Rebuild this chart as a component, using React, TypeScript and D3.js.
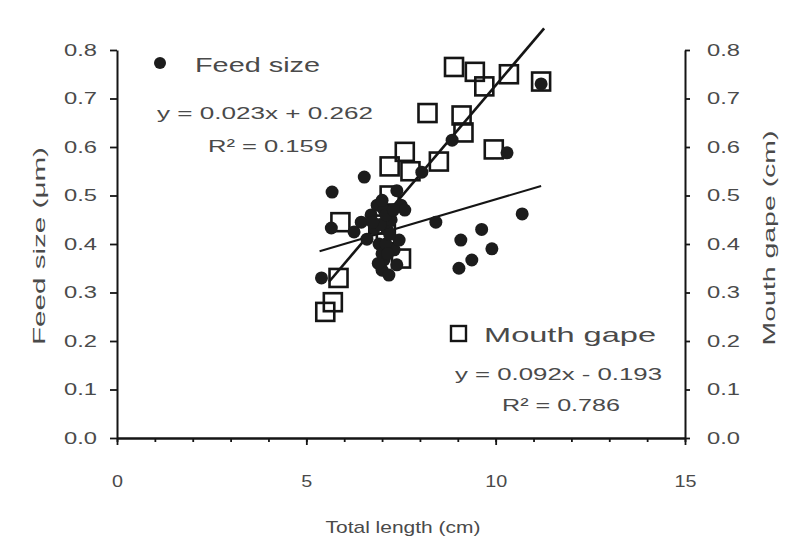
import * as d3 from 'd3';
import React, { useEffect, useRef } from 'react';

const width = 786;
const height = 555;

// feed size (left axis) vs total length
const feedLen = [5.4, 5.68, 6.53, 5.66, 6.26, 6.45, 6.71, 6.87, 7.05, 7.13, 6.92, 7.05, 7.0, 7.18, 7.39, 7.32, 7.45, 7.24, 7.5, 7.39, 6.6, 6.8, 7.0, 7.1, 7.6, 6.95, 7.1, 7.2, 6.9, 7.15, 7.3, 7.0, 6.75, 8.05, 8.42, 8.85, 9.03, 9.08, 9.37, 9.63, 9.9, 10.3, 10.7, 11.2];
const feedSize = [0.33, 0.507, 0.538, 0.433, 0.425, 0.445, 0.46, 0.48, 0.47, 0.43, 0.4, 0.367, 0.346, 0.336, 0.357, 0.388, 0.408, 0.45, 0.48, 0.51, 0.41, 0.433, 0.38, 0.4, 0.47, 0.44, 0.46, 0.42, 0.36, 0.38, 0.47, 0.49, 0.445, 0.548, 0.445, 0.614, 0.35, 0.408, 0.367, 0.43, 0.39, 0.588, 0.462, 0.73];

// mouth gape (right axis) vs total length
const gapeLen = [5.5, 5.7, 5.85, 5.9, 6.9, 7.1, 7.0, 7.2, 7.2, 7.6, 7.75, 7.5, 8.2, 8.5, 8.9, 9.1, 9.15, 9.45, 9.7, 9.95, 10.35, 11.2];
const gapeSize = [0.26, 0.28, 0.33, 0.445, 0.44, 0.42, 0.46, 0.5, 0.56, 0.59, 0.55, 0.37, 0.67, 0.57, 0.765, 0.665, 0.63, 0.755, 0.725, 0.595, 0.75, 0.735];

const xTicks = [0, 5, 10, 15];
const xMinor = d3.range(0, 16, 1);
const yTicks = [0, 0.1, 0.2, 0.3, 0.4, 0.5, 0.6, 0.7, 0.8];

const feedFit = { slope: 0.023, intercept: 0.262, from: 5.35, to: 11.2 };
const gapeFit = { slope: 0.092, intercept: -0.193, from: 5.6, to: 11.28 };

const FONT = "'Liberation Sans', Arial, sans-serif";
const INK = '#151515';
const TXT = '#4a4a4a';

export default function App() {
  const ref = useRef<SVGSVGElement>(null);

  useEffect(() => {
    const svg = d3.select(ref.current);
    svg.selectAll('*').remove();

    const x = d3.scaleLinear().domain([0, 15]).range([117, 685]);
    const yL = d3.scaleLinear().domain([0, 0.8]).range([438, 50]);
    const yR = yL.copy();

    const styleAxis = (g: any) => {
      g.select('.domain').attr('stroke', INK).attr('stroke-width', 2);
      g.selectAll('.tick line').attr('stroke', INK).attr('stroke-width', 1.8);
      g.selectAll('text')
        .attr('font-family', FONT)
        .attr('font-size', 17)
        .attr('fill', TXT);
    };

    // minor x ticks
    svg.append('g')
      .attr('transform', 'translate(0,438)')
      .call(d3.axisBottom(x).tickValues(xMinor).tickSize(4).tickSizeOuter(0).tickFormat(() => ''))
      .call(styleAxis);

    // x axis
    svg.append('g')
      .attr('transform', 'translate(0,438)')
      .call(d3.axisBottom(x).tickValues(xTicks).tickSize(7).tickPadding(30).tickSizeOuter(0).tickFormat(d3.format('d')))
      .call(styleAxis)
      .selectAll('text')
      .attr('textLength', (d: any) => (d < 10 ? 11 : 22))
      .attr('lengthAdjust', 'spacingAndGlyphs');

    // left axis
    svg.append('g')
      .attr('transform', 'translate(117,0)')
      .call(d3.axisLeft(yL).tickValues(yTicks).tickSize(7).tickPadding(13).tickSizeOuter(0).tickFormat(d3.format('.1f')))
      .call(styleAxis)
      .selectAll('text')
      .attr('textLength', 33)
      .attr('lengthAdjust', 'spacingAndGlyphs');

    // right axis
    svg.append('g')
      .attr('transform', 'translate(685,0)')
      .call(d3.axisRight(yR).tickValues(yTicks).tickSize(5).tickPadding(17).tickSizeOuter(0).tickFormat(d3.format('.1f')))
      .call(styleAxis)
      .selectAll('text')
      .attr('textLength', 33)
      .attr('lengthAdjust', 'spacingAndGlyphs');

    // regression lines
    const line = d3.line<number>().x(d => x(d));
    const fitLine = (fit: typeof feedFit, y: any, w: number) => {
      svg.append('path')
        .datum([fit.from, fit.to])
        .attr('d', line.y(d => y(fit.slope * d + fit.intercept)) as any)
        .attr('fill', 'none')
        .attr('stroke', INK)
        .attr('stroke-width', w);
    };
    fitLine(feedFit, yL, 2);
    fitLine(gapeFit, yR, 2.6);

    // mouth gape squares
    const sq = 18;
    svg.append('g').selectAll('rect')
      .data(gapeLen.map((l, i) => [l, gapeSize[i]]))
      .join('rect')
      .attr('x', d => x(d[0]) - sq / 2)
      .attr('y', d => yR(d[1]) - sq / 2)
      .attr('width', sq)
      .attr('height', sq)
      .attr('fill', 'none')
      .attr('stroke', INK)
      .attr('stroke-width', 2.6);

    // feed size dots
    svg.append('g').selectAll('circle')
      .data(feedLen.map((l, i) => [l, feedSize[i]]))
      .join('circle')
      .attr('cx', d => x(d[0]))
      .attr('cy', d => yL(d[1]))
      .attr('r', 6.5)
      .attr('fill', '#1c1c1c');

    const label = (tx: number, ty: number, str: string, size: number, len: number, anchor = 'start', rot = 0) => {
      svg.append('text')
        .attr('transform', `translate(${tx},${ty}) rotate(${rot})`)
        .attr('text-anchor', anchor)
        .attr('font-family', FONT)
        .attr('font-size', size)
        .attr('fill', TXT)
        .attr('textLength', len)
        .attr('lengthAdjust', 'spacingAndGlyphs')
        .text(str);
    };

    // legend: feed size
    svg.append('circle').attr('cx', 160).attr('cy', 63).attr('r', 6).attr('fill', '#1c1c1c');
    label(195, 72, 'Feed size', 21, 125);
    label(157, 119, 'y = 0.023x + 0.262', 17, 216);
    label(208, 152, 'R² = 0.159', 17, 120);

    // legend: mouth gape
    svg.append('rect').attr('x', 451).attr('y', 326).attr('width', 15).attr('height', 15)
      .attr('fill', 'none').attr('stroke', INK).attr('stroke-width', 2.4);
    label(484, 342, 'Mouth gape', 21, 172);
    label(455, 380, 'y = 0.092x - 0.193', 17, 207);
    label(502, 411, 'R² = 0.786', 17, 118);

    // axis titles
    label(403, 533, 'Total length (cm)', 17, 155, 'middle');
    label(45, 246, 'Feed size (μm)', 17, 198, 'middle', -90);
    label(775, 238, 'Mouth gape (cm)', 17, 215, 'middle', -90);
  }, []);

  return (
    <svg
      ref={ref}
      width={width}
      height={height}
      style={{ position: 'absolute', left: 0, top: 0, background: '#fff' }}
    />
  );
}
